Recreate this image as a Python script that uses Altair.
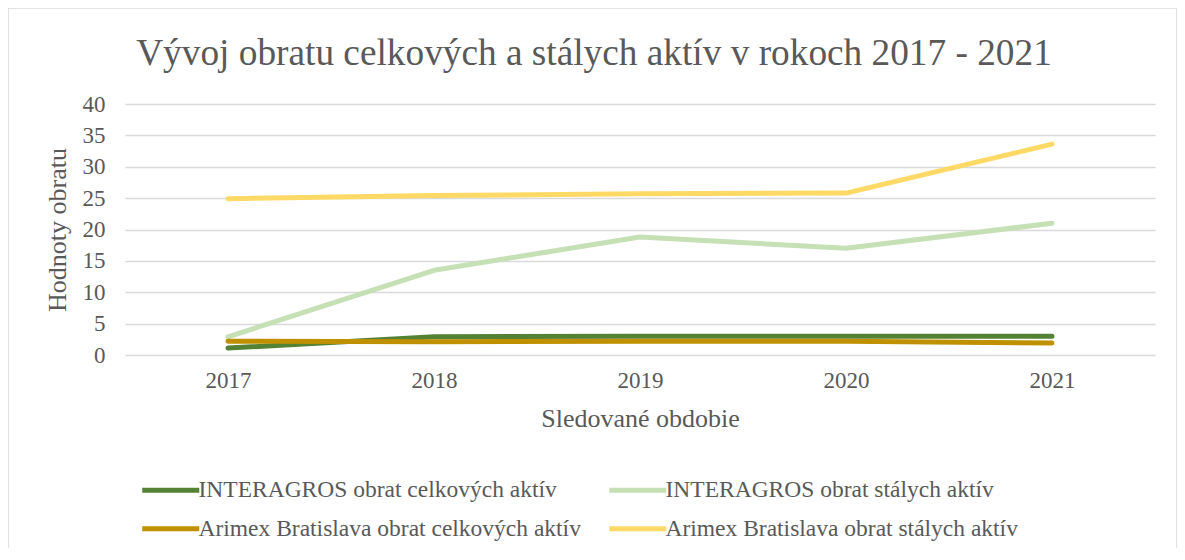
import altair as alt
import pandas as pd

years = ["2017", "2018", "2019", "2020", "2021"]
series_names = [
    "INTERAGROS obrat celkových aktív",
    "INTERAGROS obrat stálych aktív",
    "Arimex Bratislava obrat celkových aktív",
    "Arimex Bratislava obrat stálych aktív",
]
interagros_celk = [1.1, 2.9, 3.0, 3.0, 3.0]
interagros_stal = [2.9, 13.5, 18.8, 17.0, 21.0]
arimex_celk = [2.2, 2.1, 2.2, 2.2, 1.9]
arimex_stal = [24.9, 25.4, 25.7, 25.8, 33.6]
colors = ["#548235", "#c5e0b4", "#bf9000", "#ffd966"]

rows = []
for name, vals in zip(series_names, [interagros_celk, interagros_stal, arimex_celk, arimex_stal]):
    for yr, v in zip(years, vals):
        rows.append({"Rok": yr, "Séria": name, "Hodnota": v})
df = pd.DataFrame(rows)

# legend fills column-wise: order entries so rows read as in the reference
legend_order = [series_names[0], series_names[2], series_names[1], series_names[3]]
legend_colors = [colors[0], colors[2], colors[1], colors[3]]

FONT = "Liberation Serif"
TXT = "#595959"
W, H = 1030, 251

lines = alt.Chart(df).mark_line(strokeWidth=5, strokeCap="round", strokeJoin="round").encode(
    x=alt.X("Rok:N", sort=years, scale=alt.Scale(paddingInner=0, paddingOuter=0.5),
            axis=alt.Axis(title="Sledované obdobie", labelAngle=0, ticks=False, domain=False,
                          labelPadding=14, titlePadding=13, grid=False)),
    y=alt.Y("Hodnota:Q", scale=alt.Scale(domain=[0, 40], nice=False),
            axis=alt.Axis(title="Hodnoty obratu", values=[0, 5, 10, 15, 20, 25, 30, 35, 40],
                          ticks=False, domain=False, labelPadding=20, titlePadding=12,
                          gridColor="#d9d9d9", gridWidth=1.5)),
    color=alt.Color("Séria:N", sort=legend_order,
                    scale=alt.Scale(domain=legend_order, range=legend_colors),
                    legend=alt.Legend(title=None, orient="none", legendX=34, legendY=374,
                                      columns=2, symbolType="M-5,0H5", symbolSize=130,
                                      symbolStrokeWidth=5, symbolFillColor="transparent",
                                      labelOffset=16, columnPadding=18,
                                      rowPadding=14, labelFontSize=23.5, labelFont=FONT,
                                      labelColor=TXT, labelLimit=600)),
    order=alt.Order("Séria:N"),
)

frame = alt.Chart(pd.DataFrame({"a": [0]})).mark_rect(
    fill=None, stroke="#d9d9d9", strokeWidth=1.5
).encode(x=alt.value(-117), x2=alt.value(W + 22), y=alt.value(-96), y2=alt.value(H + 200))

chart = alt.layer(frame, lines).properties(
    width=W, height=H,
    background="white",
    autosize=alt.AutoSizeParams(type="none"),
    padding={"left": 117, "top": 96, "right": 22, "bottom": 193},
    title=alt.TitleParams("Vývoj obratu celkových a stálych aktív v rokoch 2017 - 2021",
                          font=FONT, fontSize=37.3, fontWeight="normal", color=TXT,
                          anchor="middle", frame="group", dx=-46, offset=-95, baseline="alphabetic"),
).configure_view(stroke=None).configure_axis(
    labelFont=FONT, labelFontSize=23, labelColor=TXT,
    titleFont=FONT, titleFontSize=26, titleColor=TXT, titleFontWeight="normal",
)

chart.save("out.html", embed_options={"renderer": "svg", "actions": False})
